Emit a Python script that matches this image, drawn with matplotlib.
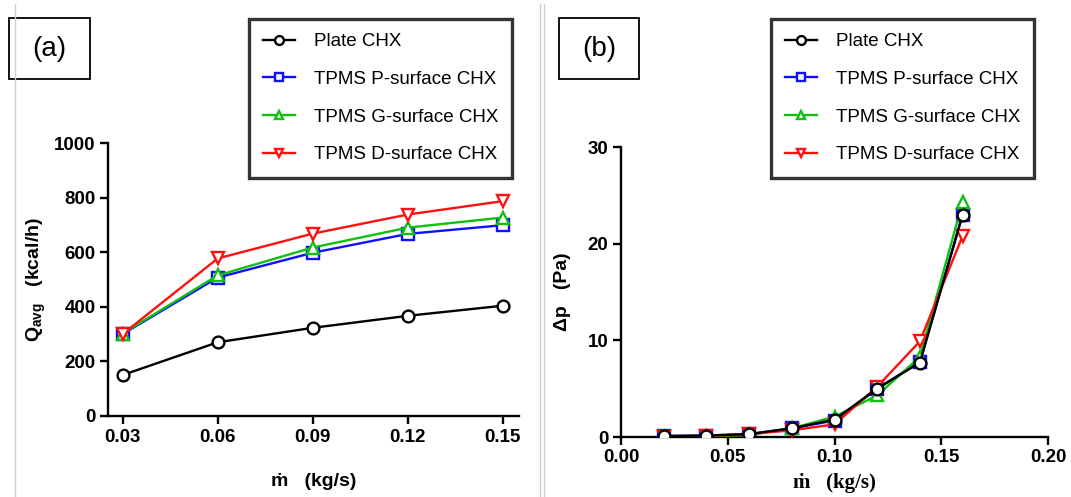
import matplotlib
matplotlib.use('Agg')
import matplotlib.pyplot as plt
from matplotlib.lines import Line2D
from matplotlib.patches import Rectangle

# --- data ---
labels = ['Plate CHX', 'TPMS P-surface CHX', 'TPMS G-surface CHX', 'TPMS D-surface CHX']

m_a = [0.03, 0.06, 0.09, 0.12, 0.15]
q_plate = [150, 270, 323, 367, 404]
q_p = [300, 507, 598, 667, 699]
q_g = [302, 515, 617, 690, 727]
q_d = [300, 577, 668, 738, 787]

m_b = [0.02, 0.04, 0.06, 0.08, 0.10, 0.12, 0.14, 0.16]
dp_plate = [0.1, 0.15, 0.3, 0.9, 1.8, 5.0, 7.7, 23.0]
dp_p = [0.1, 0.15, 0.3, 0.9, 1.7, 5.0, 7.8, 23.0]
dp_g = [0.05, 0.1, 0.2, 0.9, 2.1, 4.3, 8.3, 24.3]
dp_d = [0.05, 0.1, 0.3, 0.7, 1.3, 5.2, 9.9, 20.8]

a_ticks_x = [0.03, 0.06, 0.09, 0.12, 0.15]
a_ticks_y = [0, 200, 400, 600, 800, 1000]
b_ticks_x = [0.00, 0.05, 0.10, 0.15, 0.20]
b_ticks_y = [0, 10, 20, 30]

colors = ['#000000', '#1010ff', '#10c010', '#ff1010']
markers = ['o', 's', '^', 'v']

plt.rcParams['font.family'] = ['Liberation Sans', 'DejaVu Sans']
plt.rcParams['mathtext.default'] = 'regular'

W, H = 1071, 497
fig = plt.figure(figsize=(W / 100, H / 100), dpi=100)


def fx(px): return px / W
def fy(py): return 1 - py / H


def style(ax):
    for s in ['top', 'right']:
        ax.spines[s].set_visible(False)
    for s in ['left', 'bottom']:
        ax.spines[s].set_linewidth(1.7)
    ax.tick_params(width=1.7, length=6, labelsize=13.5, pad=3)
    for t in ax.get_xticklabels() + ax.get_yticklabels():
        t.set_fontweight('bold')


# === panel (a) ===
ax1 = fig.add_axes([fx(108), fy(416), fx(519) - fx(108), fy(143) - fy(416)])
series_a = [q_plate, q_p, q_g, q_d]
handles = []
for ys, c, mk, lab in zip(series_a, colors, markers, labels):
    h, = ax1.plot(m_a, ys, '-', color=c, marker=mk, mfc='white', mec=c,
                  ms=8.5, mew=1.7, lw=1.7, label=lab)
    handles.append(h)
ax1.set_xlim(0.0254, 0.1551)
ax1.set_ylim(0, 1000)
ax1.set_xticks(a_ticks_x)
ax1.set_xticklabels(['0.03', '0.06', '0.09', '0.12', '0.15'])
ax1.set_yticks(a_ticks_y)
style(ax1)
ax1.set_ylabel('Q$_{avg}$   (kcal/h)', fontsize=14, fontweight='bold', labelpad=4)
ax1.set_xlabel('ṁ   (kg/s)', fontsize=14, fontweight='bold', labelpad=20)

# === panel (b) ===
ax2 = fig.add_axes([fx(621), fy(437), fx(1048) - fx(621), fy(147) - fy(437)])
series_b = [dp_plate, dp_p, dp_g, dp_d]
zs = [6, 3, 4, 5]
for ys, c, mk, lab, z in zip(series_b, colors, markers, labels, zs):
    ax2.plot(m_b, ys, '-', color=c, marker=mk, mfc='white', mec=c,
             ms=8.5, mew=1.7, lw=1.7, label=lab, zorder=z)
ax2.set_xlim(0, 0.20)
ax2.set_ylim(0, 30)
ax2.set_xticks(b_ticks_x)
ax2.set_xticklabels(['0.00', '0.05', '0.10', '0.15', '0.20'])
ax2.set_yticks(b_ticks_y)
style(ax2)
ax2.set_ylabel('Δp   (Pa)', fontsize=14, fontweight='bold', labelpad=12)
ax2.set_xlabel('ṁ   (kg/s)', fontsize=15, fontweight='bold', labelpad=5,
               family=['Liberation Serif', 'DejaVu Serif'])

# === legends ===
for left in (249, 771):
    leg = fig.legend(handles=handles, loc='upper left',
                     bbox_to_anchor=(fx(left), fy(19)), borderaxespad=0,
                     fontsize=13.5, frameon=True, fancybox=False,
                     labelspacing=1.1, handlelength=1.7, handletextpad=1.0,
                     borderpad=0.75, markerscale=0.75)
    fr = leg.get_frame()
    fr.set_edgecolor('black')
    fr.set_linewidth(2.4)

# === panel label boxes ===
for (x0, x1, lab) in [(9, 90, '(a)'), (559, 639, '(b)')]:
    fig.add_artist(Rectangle((fx(x0), fy(79)), fx(x1) - fx(x0), fy(18) - fy(79),
                             transform=fig.transFigure, fill=False,
                             edgecolor='black', linewidth=1.3))
    fig.text(fx((x0 + x1) / 2), fy(48.5), lab, fontsize=20,
             ha='center', va='center')

# thin grey separators
for xp in (14.5, 540, 544):
    fig.add_artist(Line2D([fx(xp), fx(xp)], [0, fy(4)], transform=fig.transFigure,
                          color='#cfcfcf', linewidth=1))

fig.savefig('out.png', dpi=100)
